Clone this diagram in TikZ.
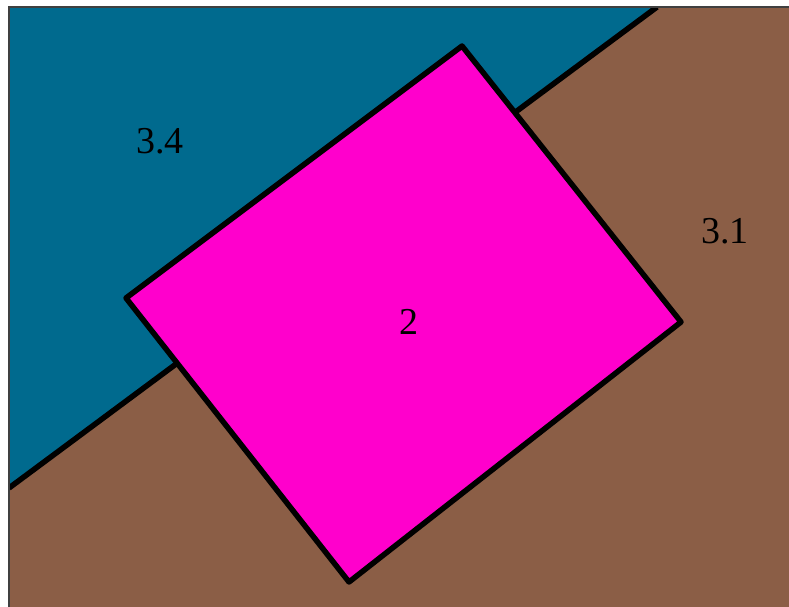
\documentclass[tikz,border=0pt]{standalone}
\usepackage{fontspec}
\setmainfont{Liberation Serif}
\definecolor{regblue}{HTML}{006A8E}
\definecolor{regbrown}{HTML}{8B5E46}
\definecolor{regpink}{HTML}{FF00CC}
\begin{document}
\begin{tikzpicture}[x=1pt,y=-1pt,
  edge/.style={draw=black,line width=5.5pt,line join=round,line cap=round},
  lbl/.style={font=\fontsize{38}{40}\selectfont,text=black,inner sep=0pt}]
\useasboundingbox (0,0) rectangle (789,607);
\fill[white] (0,0) rectangle (789,607);
% base region 3.1
\fill[regbrown] (9,7) rectangle (789,607);
% region 3.4
\fill[regblue] (9,7) -- (657,7) -- (9,488) -- cycle;
\begin{scope}
\clip (9,7) rectangle (789,607);
\draw[edge,line cap=butt] (9,488) -- (657,7);
\end{scope}
% frame
\draw[black!75,line width=1.2pt] (9,607) -- (9,7) -- (789,7);
% region 2
\path[edge,fill=regpink] (462,46) -- (681,322) -- (349,582) -- (126,298) -- cycle;
\node[lbl] (r34) at (160,141) {3.4};
\node[lbl] (r31) at (725,231) {3.1};
\node[lbl] (r2) at (409,322) {2};
\end{tikzpicture}
\end{document}
